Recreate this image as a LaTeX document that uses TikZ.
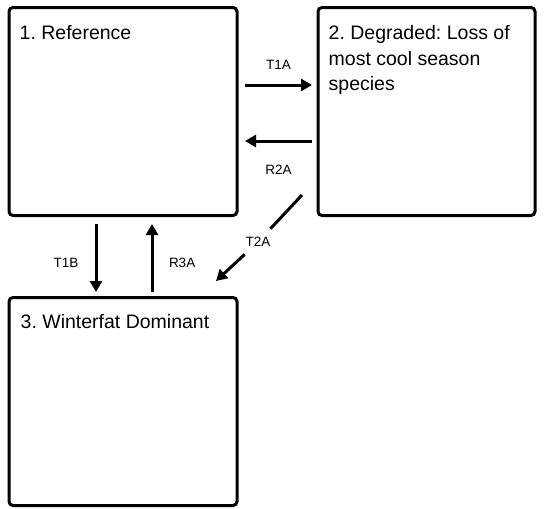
\documentclass[tikz,border=0pt]{standalone}
\usepackage{fontspec}
\setmainfont{Liberation Sans}
\frenchspacing
\usetikzlibrary{arrows.meta, positioning, calc}
\tikzset{
  >=Triangle,
  statebox/.style={draw, line width=3pt, rounded corners=4pt, outer sep=0pt, inner sep=0pt, minimum width=228pt, minimum height=208pt},
  statetext/.style={inner sep=0pt, align=left, font=\fontsize{19.5}{25.7}\selectfont},
  flowarrow/.style={-{Triangle[length=11pt, width=12pt]}, line width=3pt},
  flowline/.style={line width=3pt},
  flowlabel/.style={inner sep=0pt, font=\fontsize{13.5}{16}\selectfont}
}

\begin{document}
\begin{tikzpicture}
    \useasboundingbox (0,0) rectangle (544pt,-509pt);
    \node (ref) [statebox, anchor=north west] at (9pt,-7.5pt) {};
    \node (deg) [statebox, minimum width=217pt, right=81pt of ref] {};
    \node (win) [statebox, below=82pt of ref] {};

    % text sits near the top left corner of each box
    \node (reftext) [statetext, anchor=base west] at ($(ref.north west)+(10.5pt,-31.8pt)$) {1. Reference};
    \node (degtext) [statetext, anchor=base west] at ($(deg.north west)+(10.5pt,-83.2pt)$) {2. Degraded: Loss of\\most cool season\\species};
    \node (wintext) [statetext, anchor=base west] at ($(win.north west)+(11.5pt,-30.8pt)$) {3. Winterfat Dominant};

    \draw[flowarrow] ($(ref.north east)+(8pt,-77.5pt)$) -- node[flowlabel, above=14pt] (t1a) {T1A} ($(deg.north west)+(-6pt,-77.5pt)$);
    \draw[flowarrow] ($(deg.north west)+(-6pt,-133.5pt)$) -- node[flowlabel, below=23pt] (r2a) {R2A} ($(ref.north east)+(8pt,-133.5pt)$);

    \node (t2a) [flowlabel, circle, minimum size=36pt] at (258pt,-242pt) {T2A};
    \draw[flowline] ($(deg.north west)+(-16pt,-187.5pt)$) -- (t2a);
    \draw[flowarrow] (t2a) -- ($(win.north east)+(-21pt,16.5pt)$);

    \draw[flowarrow] ($(ref.south west)+(87pt,-8.5pt)$) -- node[flowlabel, pos=0.57, left=16pt] (t1b) {T1B} ($(win.north west)+(87pt,5.5pt)$);
    \draw[flowarrow] ($(win.north west)+(143pt,5.5pt)$) -- node[flowlabel, pos=0.43, right=15.5pt] (r3a) {R3A} ($(ref.south west)+(143pt,-8.5pt)$);
\end{tikzpicture}
\end{document}
